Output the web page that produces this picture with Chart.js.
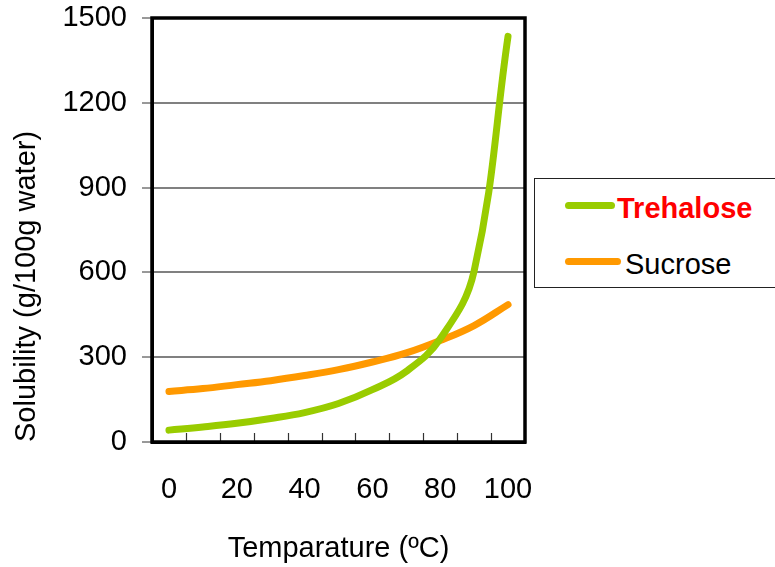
<!DOCTYPE html>
<html>
<head>
<meta charset="utf-8">
<script src="https://cdn.jsdelivr.net/npm/chart.js@4/dist/chart.umd.min.js"></script>
<style>
  html, body { margin: 0; padding: 0; background: #fff; }
  #wrap { position: relative; width: 775px; height: 567px; overflow: hidden; }
  canvas { position: absolute; left: 0; top: 0; }
  #legend { position: absolute; left: 534px; top: 178px; width: 260px; height: 110px;
            border: 1px solid #222; box-sizing: border-box; background: #fff; }
  .sw { position: absolute; height: 7px; border-radius: 4px; }
  .lt { position: absolute; font-family: "Liberation Sans", Arial, sans-serif; font-size: 29px;
        line-height: 30px; white-space: nowrap; }
</style>
</head>
<body>
<div id="wrap">
  <canvas id="c" width="775" height="567"></canvas>
  <div id="legend">
    <div class="sw" style="left:30px; top:23px; width:50px; background:#99CC00;"></div>
    <div class="lt" style="left:82px; top:14px; color:#FF0000; font-weight:bold;">Trehalose</div>
    <div class="sw" style="left:30px; top:79px; width:56px; background:#FF9900;"></div>
    <div class="lt" style="left:90px; top:70px; color:#000;">Sucrose</div>
  </div>
</div>
<script>
const temperatures = ['0', '10', '20', '30', '40', '50', '60', '70', '80', '90', '100'];
const trehalose = [42, 53, 66, 83, 104, 136, 185, 250, 365, 605, 1435];
const sucrose = [179, 189, 203, 217, 235, 256, 283, 315, 359, 412, 486];
const yTicks = [0, 300, 600, 900, 1200, 1500];

const FONT = '"Liberation Sans", Arial, sans-serif';

const framePlugin = {
  id: 'frame',
  afterDatasetsDraw(chart) {
    const ctx = chart.ctx;
    const a = chart.chartArea;
    const xs = chart.scales.x;
    ctx.save();
    ctx.strokeStyle = '#333';
    ctx.lineWidth = 1.2;
    for (let i = 1; i < temperatures.length; i++) {
      const x = (xs.getPixelForValue(i - 1) + xs.getPixelForValue(i)) / 2;
      ctx.beginPath();
      ctx.moveTo(Math.round(x) + 0.5, a.bottom);
      ctx.lineTo(Math.round(x) + 0.5, a.bottom - 9);
      ctx.stroke();
    }
    ctx.strokeStyle = '#000';
    ctx.lineWidth = 3.5;
    ctx.strokeRect(a.left, a.top, a.right - a.left, a.bottom - a.top);
    ctx.restore();
  }
};

new Chart(document.getElementById('c'), {
  type: 'line',
  data: {
    labels: temperatures,
    datasets: [
      { label: 'Trehalose', data: trehalose, borderColor: '#99CC00', borderWidth: 7,
        pointRadius: 0, tension: 0.4, borderCapStyle: 'round',
        borderJoinStyle: 'round', fill: false },
      { label: 'Sucrose', data: sucrose, borderColor: '#FF9900', borderWidth: 7,
        pointRadius: 0, tension: 0.4, borderCapStyle: 'round',
        borderJoinStyle: 'round', fill: false }
    ]
  },
  options: {
    responsive: false,
    animation: false,
    devicePixelRatio: 1,
    layout: { padding: { left: 0, top: 18, right: 250, bottom: 0 } },
    plugins: { legend: { display: false }, tooltip: { enabled: false } },
    scales: {
      x: {
        type: 'category',
        offset: true,
        afterFit: s => { s.height = 125; s.paddingLeft = 0; s.paddingRight = 0; },
        grid: { display: false, offset: true },
        border: { display: true, color: '#000', width: 3 },
        ticks: {
          autoSkip: false, maxRotation: 0, padding: 23, color: '#000',
          font: { family: FONT, size: 29 },
          callback: (v, i) => (i % 2 === 0 ? temperatures[i] : '')
        },
        title: { display: true, text: 'Temparature (ºC)', color: '#000',
                 font: { family: FONT, size: 29 }, padding: { top: 0, bottom: 1 } }
      },
      y: {
        min: 0, max: 1500,
        afterFit: s => { s.width = 152; s.paddingTop = 0; s.paddingBottom = 0; },
        afterBuildTicks: s => { s.ticks = yTicks.map(v => ({ value: v })); },
        grid: { color: '#808080', lineWidth: 2, drawTicks: true, tickLength: 10,
                tickColor: '#333', tickWidth: 1 },
        border: { display: true, color: '#000', width: 3 },
        ticks: { padding: 15, color: '#000', font: { family: FONT, size: 29 },
                 callback: v => String(v) },
        title: { display: true, text: 'Solubility (g/100g water)', color: '#000', align: 'start',
                 font: { family: FONT, size: 29 }, padding: { top: 10, bottom: 0 } }
      }
    }
  },
  plugins: [framePlugin]
});
</script>
</body>
</html>
